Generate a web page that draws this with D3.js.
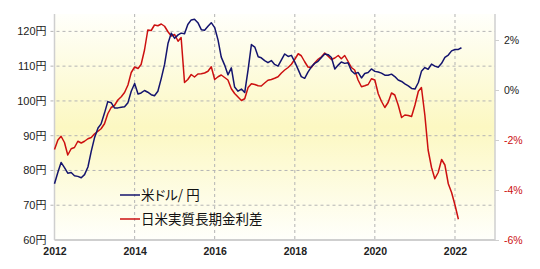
<!DOCTYPE html>
<html>
<head>
<meta charset="utf-8">
<script src="https://cdn.jsdelivr.net/npm/d3@7"></script>
<style>
  body { margin: 0; background: #fff; }
  svg { display: block; }
  text { font-family: "Liberation Sans", Arial, "Noto Sans CJK JP", sans-serif; }
</style>
</head>
<body>
<svg id="chart" width="540" height="269"></svg>
<script>
// monthly series, starting Jan 2012
const startMonth = new Date(2012, 0, 1);

// 米ドル/円 (left axis, yen)
const usdJpy = [
  76.2, 79.5, 82.3, 80.8, 79.2, 79.4, 78.5, 78.3, 77.9, 78.8, 81.0, 85.5,
  89.5, 92.2, 93.4, 96.5, 99.8, 99.5, 98.0, 98.0, 98.2, 98.3, 99.5, 102.8,
  105.0, 102.0, 102.3, 103.0, 102.5, 101.8, 101.5, 102.8, 106.5, 110.5, 116.5, 119.5,
  118.0, 119.0, 119.5, 119.3, 122.0, 123.3, 123.5, 122.5, 120.5, 120.3, 121.5, 122.5,
  121.1, 117.5, 112.6, 110.3, 107.5, 109.5, 104.0, 102.8, 103.4, 102.4, 109.0, 116.2,
  115.5, 112.7, 112.4, 111.6, 111.0, 111.6, 110.5, 110.0, 111.8, 113.5, 112.8, 113.1,
  111.2, 109.0, 107.0, 106.5, 108.3, 109.8, 110.8, 111.4, 112.5, 113.5, 113.3, 112.5,
  109.2, 110.3, 111.2, 110.8, 111.0, 108.7, 107.8, 108.2, 106.6, 107.9, 108.2, 109.2,
  108.5, 108.3, 108.0, 107.4, 107.4, 107.7, 107.0, 106.0, 105.6, 104.9, 104.3, 103.6,
  103.4, 105.3, 108.5, 109.6, 109.1, 110.6, 110.0, 109.7, 110.8, 112.5, 113.2, 114.4,
  114.8, 114.8, 115.3
];

// 日米実質長期金利差 (right axis, %)
const rateGap = [
  -2.38, -2.0, -1.85, -2.1, -2.6, -2.35, -2.3, -2.05, -2.12, -2.05, -1.95, -1.9,
  -1.75, -1.65, -1.55, -1.35, -0.95, -0.7, -0.62, -0.4, -0.27, -0.1, 0.2, 0.7,
  0.92, 0.86, 1.02, 1.6, 2.4, 2.38, 2.6, 2.57, 2.64, 2.55, 2.33, 2.16,
  2.22, 1.95, 2.1, 0.3, 0.42, 0.62, 0.52, 0.64, 0.65, 0.68, 0.75, 0.93,
  0.42, 0.53, 0.6, 0.5, 0.4, 0.05, -0.14, -0.28, -0.42, -0.35, 0.1, 0.25,
  0.22, 0.17, 0.16, 0.28, 0.39, 0.42, 0.47, 0.53, 0.68, 0.8, 0.9, 1.03,
  1.23, 1.45, 1.37, 1.13, 0.92, 0.9, 1.08, 1.23, 1.33, 1.48, 1.35, 1.22,
  1.28, 1.38, 1.25, 1.38, 1.15, 0.9, 0.8, 0.4, 0.13, 0.17, 0.22, 0.45,
  0.4, -0.15, -0.45, -0.7, -0.5, -0.12, -0.2, -0.6, -1.1, -1.0, -1.02, -1.06,
  -0.6, -0.05, 0.1, -1.0, -2.4, -3.1, -3.55, -3.3, -2.78, -3.0, -3.75, -4.1,
  -4.6, -5.17
];

const yenTicks = [60, 70, 80, 90, 100, 110, 120];
const pctTicks = [-6, -4, -2, 0, 2];
const yearTicks = [2012, 2014, 2016, 2018, 2020, 2022];
const seriesNames = ["米ドル/ 円", "日米実質長期金利差"];
const seriesColors = ["#14146e", "#cc1010"];

const plotL = 54.5, plotR = 495, plotT = 14, plotB = 240;

const svg = d3.select("#chart");

const x = d3.scaleTime()
  .domain([new Date(2012, 0, 1), new Date(2023, 0, 1)])
  .range([plotL, plotR]);
const yYen = d3.scaleLinear().domain([60, 125]).range([plotB, plotT]);
const yPct = d3.scaleLinear().domain([-6, 3.04]).range([plotB, plotT]);

const monthDate = i => d3.timeMonth.offset(startMonth, i);

// background gradient (white - pale yellow - white)
const grad = svg.append("defs").append("linearGradient")
  .attr("id", "bg").attr("x1", 0).attr("y1", 0).attr("x2", 0).attr("y2", 1);
grad.append("stop").attr("offset", "0%").attr("stop-color", "#fffffb");
grad.append("stop").attr("offset", "50%").attr("stop-color", "#fcf8c2");
grad.append("stop").attr("offset", "100%").attr("stop-color", "#fffffb");

svg.append("rect")
  .attr("x", plotL).attr("y", plotT)
  .attr("width", plotR - plotL).attr("height", plotB - plotT)
  .attr("fill", "url(#bg)");

// grid lines
svg.append("g").selectAll("line")
  .data(yenTicks.filter(d => d > 60))
  .join("line")
  .attr("x1", plotL - 4).attr("x2", plotR)
  .attr("y1", d => yYen(d)).attr("y2", d => yYen(d))
  .attr("stroke", "#b4b4b4").attr("stroke-dasharray", "3,3");

svg.append("g").selectAll("line")
  .data(yearTicks.filter(d => d > 2012))
  .join("line")
  .attr("x1", d => x(new Date(d, 0, 1))).attr("x2", d => x(new Date(d, 0, 1)))
  .attr("y1", plotT).attr("y2", plotB)
  .attr("stroke", "#b4b4b4").attr("stroke-dasharray", "3,3");

// axis lines
svg.append("line").attr("x1", plotL).attr("x2", plotL).attr("y1", plotT).attr("y2", plotB)
  .attr("stroke", "#cfcfcf").attr("stroke-width", 1.5);
svg.append("line").attr("x1", plotR).attr("x2", plotR).attr("y1", plotT).attr("y2", plotB)
  .attr("stroke", "#cfcfcf").attr("stroke-width", 1.5);
svg.append("line").attr("x1", plotL).attr("x2", plotR).attr("y1", plotB).attr("y2", plotB)
  .attr("stroke", "#cfcfcf").attr("stroke-width", 2);

// left axis labels
const axL = svg.append("g").attr("transform", `translate(${plotL - 5},0)`)
  .call(d3.axisLeft(yYen).tickValues(yenTicks).tickSize(0).tickFormat(d => d + "円"));
axL.select(".domain").remove();
axL.selectAll("text").attr("font-size", 11).attr("fill", "#222").attr("font-family", null);

// bottom axis labels
const axB = svg.append("g").attr("transform", `translate(0,${plotB + 5})`)
  .call(d3.axisBottom(x).tickValues(yearTicks.map(d => new Date(d, 0, 1)))
    .tickSize(0).tickFormat(d3.timeFormat("%Y")));
axB.select(".domain").remove();
axB.selectAll("text").attr("font-size", 10.5).attr("font-weight", "bold")
  .attr("fill", "#222").attr("font-family", null);

// right axis
const axR = svg.append("g").attr("transform", `translate(${plotR},0)`)
  .call(d3.axisRight(yPct).tickValues(pctTicks).tickSize(4).tickPadding(5)
    .tickFormat(d => d + "%"));
axR.select(".domain").remove();
axR.selectAll("line").attr("stroke", "#cfcfcf");
axR.selectAll("text").attr("font-size", 10.5).attr("font-family", null)
  .attr("fill", d => d < 0 ? "#cc1010" : "#222");

// lines
const lineYen = d3.line().x((d, i) => x(monthDate(i))).y(d => yYen(d));
const linePct = d3.line().x((d, i) => x(monthDate(i))).y(d => yPct(d));

svg.append("path").datum(rateGap).attr("d", linePct)
  .attr("fill", "none").attr("stroke", seriesColors[1]).attr("stroke-width", 1.5)
  .attr("stroke-linejoin", "round");
svg.append("path").datum(usdJpy).attr("d", lineYen)
  .attr("fill", "none").attr("stroke", seriesColors[0]).attr("stroke-width", 1.5)
  .attr("stroke-linejoin", "round");

// legend
const legend = svg.append("g").selectAll("g")
  .data(seriesNames)
  .join("g")
  .attr("transform", (d, i) => `translate(120,${195 + i * 24})`);
legend.append("line").attr("x1", 0).attr("x2", 20)
  .attr("stroke", (d, i) => seriesColors[i]).attr("stroke-width", 1.5);
legend.append("text").attr("x", 21).attr("y", 5)
  .attr("font-size", 13.5).attr("fill", "#111")
  .style("font-family", "'Noto Sans CJK JP', sans-serif")
  .style("font-feature-settings", "'palt'")
  .text(d => d);
</script>
</body>
</html>
